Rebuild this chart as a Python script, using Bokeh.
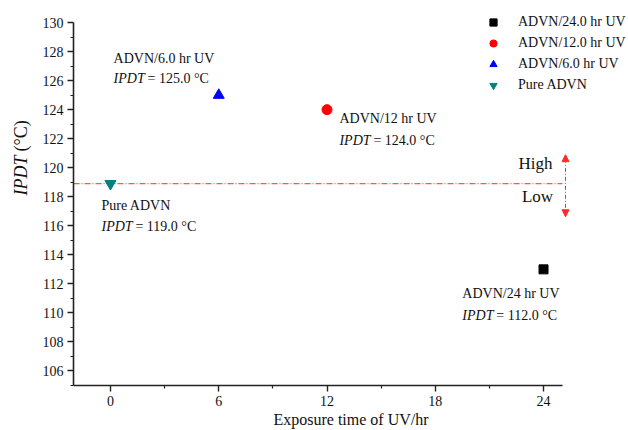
from bokeh.plotting import figure
from bokeh.layouts import row
from bokeh.models import Range1d, FixedTicker, Label, Arrow, NormalHead
from bokeh.embed import file_html
from bokeh.resources import INLINE

# ---- data ----
series_names = ["ADVN/24.0 hr UV", "ADVN/12.0 hr UV", "ADVN/6.0 hr UV", "Pure ADVN"]
exposure_hours = [24, 12, 6, 0]
ipdt_values = [113.0, 124.0, 125.0, 118.9]
note_titles = ["ADVN/24 hr UV", "ADVN/12 hr UV", "ADVN/6.0 hr UV", "Pure ADVN"]
note_ipdt = ["112.0", "124.0", "125.0", "119.0"]
threshold_ipdt = 118.9
arrow_span = [116.62, 120.9]
x_bounds = (-2.05, 25.05)
y_bounds = (105, 130)
x_ticks = [0, 6, 12, 18, 24]
x_minor = [3, 9, 15, 21]
y_ticks = [106, 108, 110, 112, 114, 116, 118, 120, 122, 124, 126, 128, 130]
y_minor = [105, 107, 109, 111, 113, 115, 117, 119, 121, 123, 125, 127, 129]

# ---- styles / positions ----
colors = ["black", "red", "blue", "#008080"]
markers = ["square", "circle", "triangle", "inverted_triangle"]
sizes = [9, 10, 11, 11]
FONT = "Liberation Serif"
TXT = "#111111"
note_pos = [(19.5, 111.31, 109.8), (12.69, 123.38, 121.86),
            (0.17, 127.55, 126.14), (-0.5, 117.38, 115.93)]

TITLE_W = 38
H = 430

# narrow figure holding the rotated y-axis title (mixed italic / upright)
ft = figure(width=TITLE_W, height=H, output_backend="svg", toolbar_location=None,
            title=None, x_range=Range1d(0, 1), y_range=Range1d(0, 1),
            x_axis_location=None, y_axis_location=None,
            min_border_left=0, min_border_right=0, min_border_top=0, min_border_bottom=0)
ft.outline_line_color = None
ft.xgrid.visible = False
ft.ygrid.visible = False
ft.add_layout(Label(x=20, y=190, x_units="screen", y_units="screen", angle=1.5707963,
                    text="IPDT", text_font=FONT, text_font_style="italic",
                    text_font_size="18px", text_align="left", text_baseline="middle",
                    text_color=TXT))
ft.add_layout(Label(x=20, y=234, x_units="screen", y_units="screen", angle=1.5707963,
                    text="(°C)", text_font=FONT, text_font_size="18px",
                    text_align="left", text_baseline="middle", text_color=TXT))

# main figure; frame extended right/up so the legend and arrow are not clipped,
# axes limited to their ranges with bounds
p = figure(width=628 - TITLE_W, height=H, output_backend="svg", toolbar_location=None,
           title=None,
           x_range=Range1d(-2.05, 28.71), y_range=Range1d(105, 131.52),
           min_border_left=73 - TITLE_W, min_border_right=0, min_border_top=0,
           min_border_bottom=45)

p.xgrid.visible = False
p.ygrid.visible = False
p.outline_line_color = None

for ax in (p.xaxis[0], p.yaxis[0]):
    ax.axis_line_color = "#222222"
    ax.axis_line_width = 1.6
    ax.major_tick_line_color = "#222222"
    ax.major_tick_line_width = 1.4
    ax.minor_tick_line_color = "#222222"
    ax.minor_tick_line_width = 1.2
    ax.major_tick_out = 6
    ax.major_tick_in = 0
    ax.minor_tick_out = 3
    ax.minor_tick_in = 0
    ax.major_label_text_font = FONT
    ax.major_label_text_font_size = "14px"
    ax.major_label_text_color = TXT
    ax.major_label_standoff = 4

p.xaxis[0].ticker = FixedTicker(ticks=x_ticks, minor_ticks=x_minor)
p.yaxis[0].ticker = FixedTicker(ticks=y_ticks, minor_ticks=y_minor)
p.xaxis[0].bounds = x_bounds
p.yaxis[0].bounds = y_bounds
p.xaxis[0].axis_label = "Exposure time of UV/hr"
p.xaxis[0].axis_label_text_font = FONT
p.xaxis[0].axis_label_text_font_size = "16px"
p.xaxis[0].axis_label_text_font_style = "normal"
p.xaxis[0].axis_label_text_color = TXT
p.xaxis[0].axis_label_standoff = 2

# threshold line
p.segment(x0=[x_bounds[0]], x1=[x_bounds[1]], y0=[threshold_ipdt], y1=[threshold_ipdt],
          line_color="#ff2a2a", line_width=1, line_dash="6 2 1 2")

# points
for i in range(len(series_names)):
    p.scatter([exposure_hours[i]], [ipdt_values[i]], marker=markers[i], size=sizes[i],
              fill_color=colors[i], line_color=colors[i], legend_label=series_names[i])

# annotations
for i in range(len(series_names)):
    x, y1, y2 = note_pos[i]
    p.add_layout(Label(x=x, y=y1, text=note_titles[i], text_font=FONT,
                       text_font_size="14px", text_baseline="middle", text_align="left",
                       text_color=TXT))
    p.add_layout(Label(x=x, y=y2, text="IPDT", text_font=FONT, text_font_style="italic",
                       text_font_size="14px", text_baseline="middle", text_align="left",
                       text_color=TXT))
    p.add_layout(Label(x=x, y=y2, x_offset=34, text="= " + note_ipdt[i] + " °C",
                       text_font=FONT, text_font_size="14px", text_baseline="middle",
                       text_align="left", text_color=TXT))

# High / Low with double arrow
p.add_layout(Label(x=23.56, y=120.28, text="High", text_font=FONT, text_font_size="17px",
                   text_align="center", text_baseline="middle", text_color=TXT))
p.add_layout(Label(x=23.67, y=118.0, text="Low", text_font=FONT, text_font_size="17px",
                   text_align="center", text_baseline="middle", text_color=TXT))
head_kw = dict(size=7, fill_color="#ff2a2a", line_color="#ff2a2a")
p.add_layout(Arrow(start=NormalHead(**head_kw), end=NormalHead(**head_kw),
                   x_start=25.22, y_start=arrow_span[0], x_end=25.22, y_end=arrow_span[1],
                   line_color="#ff2a2a", line_width=1, line_dash="4 2 1 2"))

# legend
leg = p.legend[0]
leg.location = (410, 291)
leg.border_line_color = None
leg.background_fill_alpha = 0
leg.padding = 0
leg.margin = 0
leg.spacing = 3
leg.label_height = 18
leg.glyph_height = 18
leg.glyph_width = 20
leg.label_standoff = 15
leg.label_text_font = FONT
leg.label_text_font_size = "14px"
leg.label_text_color = TXT

layout = row(ft, p)
open("out.html", "w").write(file_html(layout, INLINE))
